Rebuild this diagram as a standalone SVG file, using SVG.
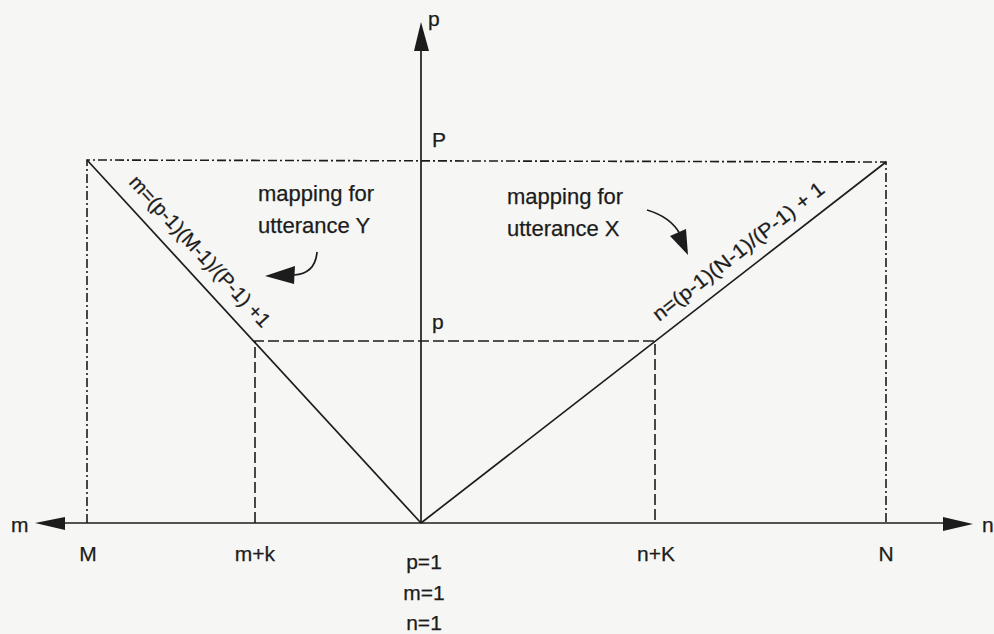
<svg xmlns="http://www.w3.org/2000/svg" width="994" height="634" viewBox="0 0 994 634">
<style>
text{font-family:"Liberation Sans",Arial,Helvetica,sans-serif;fill:#1c1c1c;stroke:#1c1c1c;stroke-width:0.25}
.lbl{font-size:21px}
.big{font-size:22px}
.f{font-size:20px}
.solid{stroke:#1c1c1c;stroke-width:1.7;fill:none}
.dd{stroke:#1c1c1c;stroke-width:1.6;fill:none;stroke-dasharray:9 3 2 3}
.da{stroke:#1c1c1c;stroke-width:1.6;fill:none;stroke-dasharray:11 4}
.ah{fill:#1c1c1c;stroke:none}
</style>
<rect x="0" y="0" width="994" height="634" fill="#f6f6f4"/>
<g id="connectors">
<line class="solid" x1="60" y1="523" x2="948" y2="523"/>
<polygon class="ah" points="35,523 65,517 65,530"/>
<polygon class="ah" points="973,524 943,517 943,531"/>
<line class="solid" x1="421" y1="523" x2="421" y2="48"/>
<polygon class="ah" points="421,22 414,51 429,51"/>
<polyline class="dd" points="87,523 87,160 886,162 886,523"/>
<line class="solid" x1="87" y1="160" x2="421" y2="523"/>
<line class="solid" x1="421" y1="523" x2="886" y2="162"/>
<polyline class="da" points="255,523 255,341 655,341 655,523"/>
<path class="solid" d="M317,252 C316,265 309,274 294,275"/>
<polygon class="ah" points="265,276 295,266 294,284"/>
<path class="solid" d="M647,210 C664,215 674,223 680,234"/>
<polygon class="ah" points="688,255 670,236 686,229"/>
</g>
<g id="axis-labels">
<text class="lbl" x="428" y="26">p</text>
<text class="lbl" x="432" y="147">P</text>
<text class="lbl" x="432" y="329">p</text>
<text class="lbl" x="11" y="532">m</text>
<text class="lbl" x="982" y="532">n</text>
<text class="lbl" x="88" y="561" text-anchor="middle">M</text>
<text class="lbl" x="255" y="561" text-anchor="middle">m+k</text>
<text class="lbl" x="424" y="569" text-anchor="middle">p=1</text>
<text class="lbl" x="424" y="600" text-anchor="middle">m=1</text>
<text class="lbl" x="424" y="630" text-anchor="middle">n=1</text>
<text class="lbl" x="656" y="561" text-anchor="middle">n+K</text>
<text class="lbl" x="886" y="561" text-anchor="middle">N</text>
</g>
<g id="label-Y">
<text class="big" x="258" y="201">mapping for</text>
<text class="big" x="258" y="233">utterance Y</text>
</g>
<g id="label-X">
<text class="big" x="507" y="204">mapping for</text>
<text class="big" x="507" y="236">utterance X</text>
</g>
<g id="formula-m">
<text class="f" transform="translate(128,183) rotate(47.4)" textLength="198" lengthAdjust="spacingAndGlyphs">m=(p-1)(M-1)/(P-1) +1</text>
</g>
<g id="formula-n">
<text class="f" transform="translate(659,322) rotate(-37.98)" textLength="212" lengthAdjust="spacingAndGlyphs">n=(p-1)(N-1)/(P-1) + 1</text>
</g>
</svg>
